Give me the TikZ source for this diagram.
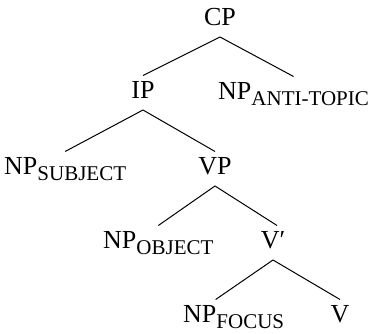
\documentclass[tikz,border=0pt]{standalone}
\usepackage{fontspec}
\setmainfont{Liberation Serif}
\usetikzlibrary{calc}

\newcommand{\subcap}[1]{\raisebox{-6pt}{\fontsize{21}{21}\selectfont #1}}

\begin{document}
\begin{tikzpicture}[x=1pt,y=1pt]
\tikzset{cat/.style={anchor=base,inner sep=0pt,font=\fontsize{26}{26}\selectfont}}
\useasboundingbox (0,0) rectangle (373,334);

\coordinate (cp) at (220,308);
\coordinate (ip) at (143,235);
\coordinate (anti) at (218,234);
\coordinate (subj) at (4,159);
\coordinate (vp) at (215,159);
\coordinate (obj) at (103,85);
\coordinate (vbar) at (273,85);
\coordinate (foc) at (183,11);
\coordinate (v) at (340,11);

\newcommand{\tedge}[3][0]{
    \draw[line width=1pt] ($(#2.base)+(0,-11)$)--($(#3.base)+(#1,23.5)$);
}

\node[cat] (CP) at (cp) {CP};
\node[cat] (IP) at (ip) {IP};
\node[cat,anchor=base west] (NPanti) at (anti) {NP\subcap{ANTI-TOPIC}};
\node[cat,anchor=base west] (NPsubj) at (subj) {NP\subcap{SUBJECT}};
\node[cat] (VP) at (vp) {VP};
\node[cat,anchor=base west] (NPobj) at (obj) {NP\subcap{OBJECT}};
\node[cat] (Vbar) at (vbar) {V′};
\node[cat,anchor=base west] (NPfoc) at (foc) {NP\subcap{FOCUS}};
\node[cat] (V) at (v) {V};

\tedge{CP}{IP}\tedge{CP}{NPanti}
\tedge{IP}{NPsubj}\tedge{IP}{VP}
\tedge{VP}{NPobj}\tedge[4]{VP}{Vbar}
\tedge[-18]{Vbar}{NPfoc}\tedge{Vbar}{V}
\end{tikzpicture}
\end{document}
